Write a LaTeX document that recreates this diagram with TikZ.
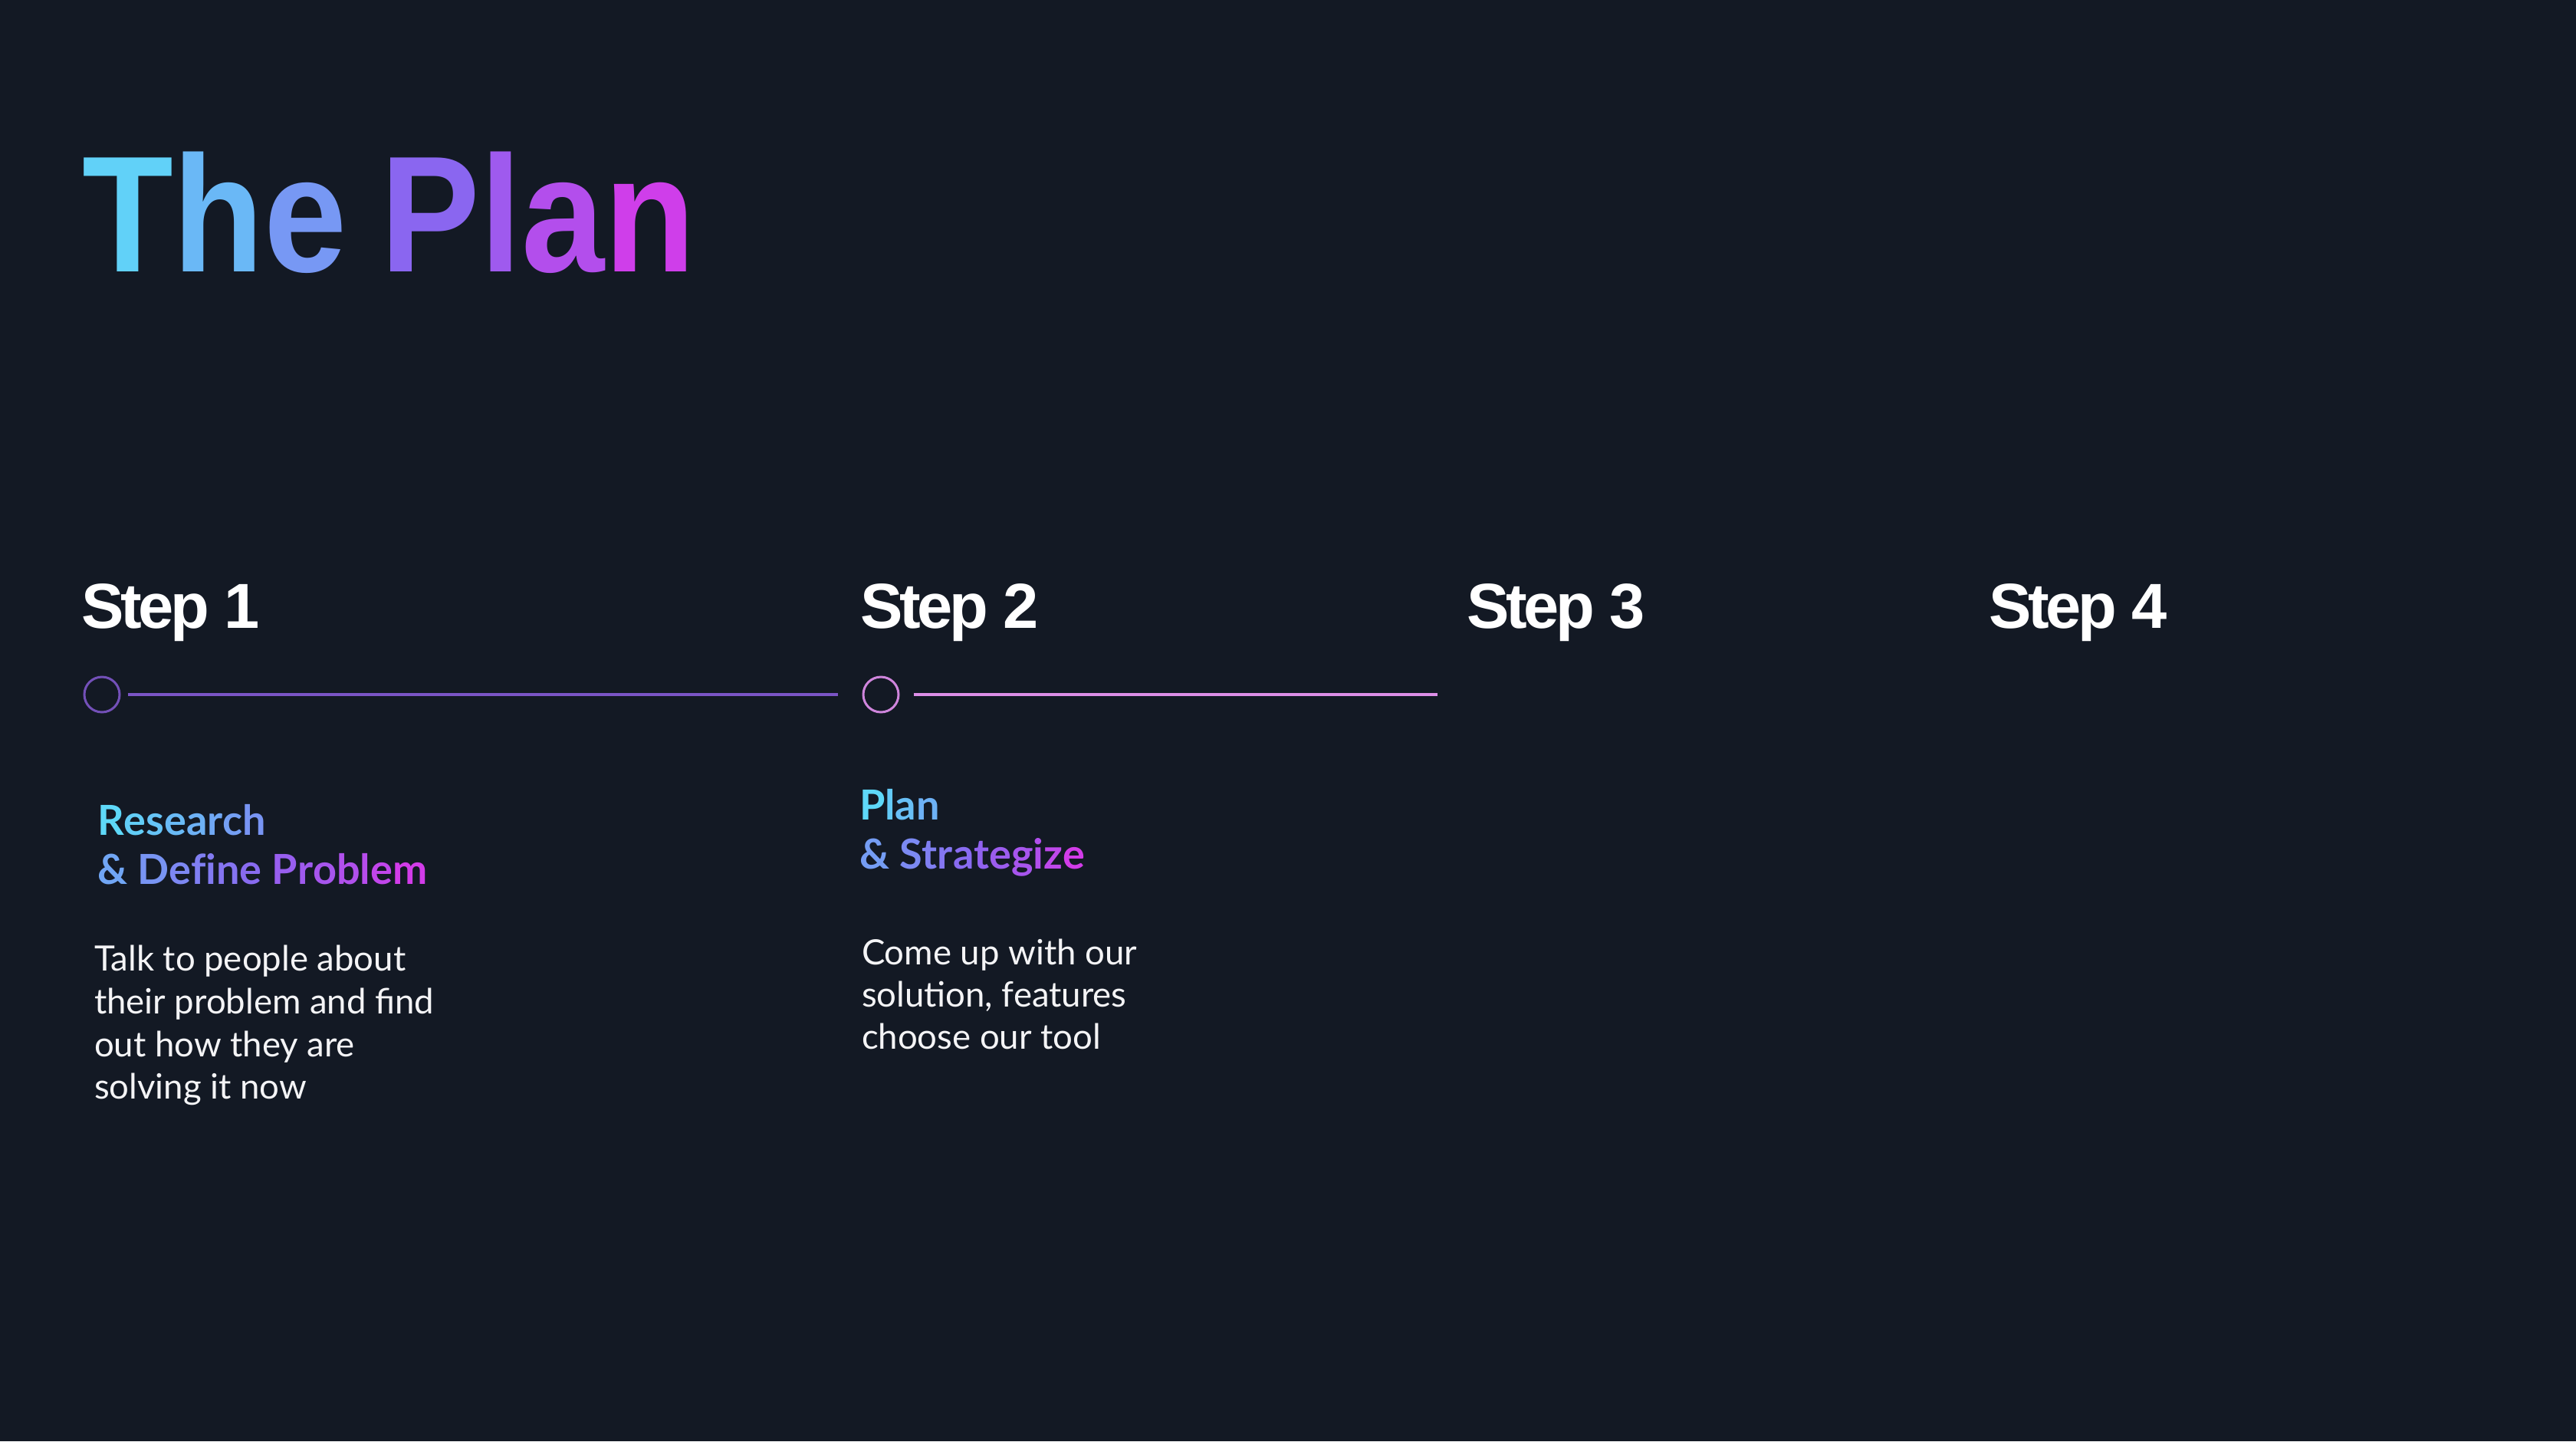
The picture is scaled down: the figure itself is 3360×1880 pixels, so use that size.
\documentclass[tikz,border=0pt]{standalone}
\usepackage{graphicx}
\usepackage{fontspec}
\setmainfont{Lato}
\newfontfamily\headfont{Liberation Sans}[LetterSpace=-5]
\newfontfamily\subfont{Lato}
\definecolor{bg}{HTML}{131924}
\definecolor{gA}{HTML}{5ED8F8}
\definecolor{gB}{HTML}{8A66F0}
\definecolor{gC}{HTML}{E034E8}
\definecolor{lineA}{HTML}{7B55C6}
\definecolor{ringA}{HTML}{7350B8}
\definecolor{lineB}{HTML}{DD8EE8}
\definecolor{ringB}{HTML}{CF85DC}
\definecolor{bodytext}{HTML}{F4F4F6}
\newcommand\gc[2]{\ifnum#1<50 \edef\gcx{gB!\number\numexpr#1*2\relax!gA}\else\edef\gcx{gC!\number\numexpr(#1-50)*2\relax!gB}\fi\textcolor{\gcx}{#2}}
\begin{document}
\begin{tikzpicture}[x=1pt,y=-1pt,
  txt/.style={anchor=base west, inner sep=0pt, outer sep=0pt},
  titletext/.style={txt, font=\headfont\bfseries\fontsize{216}{216}\selectfont},
  steplabel/.style={txt, text=white, font=\headfont\bfseries\fontsize{83}{83}\selectfont},
  subtitle/.style={txt, font=\subfont\bfseries\fontsize{54}{54}\selectfont},
  bodyline/.style={txt, text=bodytext, font=\fontsize{45.5}{45.5}\selectfont},
  ring/.style={circle, minimum size=46pt, inner sep=0pt, line width=3pt},
  track/.style={line width=4pt}]
\fill[bg] (0,0) rectangle (3360,1880);
\node[titletext] (title) at (107,354) {\scalebox{0.9}[1]{\gc{3}{T}\gc{14}{h}\gc{28}{e} \gc{50}{P}\gc{62}{l}\gc{74}{a}\gc{90}{n}}};
\node[steplabel] (s1) at (106,819) {Step 1};
\node[steplabel] (s2) at (1122,819) {Step 2};
\node[steplabel] (s3) at (1913,819) {Step 3};
\node[steplabel] (s4) at (2594,819) {Step 4};
\node[ring, draw=ringA] (c1) at (133,906) {};
\node[ring, draw=ringB] (c2) at (1149,906) {};
\coordinate (e2) at (1875,906);
\draw[track, lineA, shorten <=9pt, shorten >=32pt] (c1) -- (c2);
\draw[track, lineB, shorten <=18pt] (c2) -- (e2);
\node[subtitle] (t1a) at (127,1089) {\gc{0}{R}\gc{5}{e}\gc{9}{s}\gc{13}{e}\gc{17}{a}\gc{21}{r}\gc{25}{c}\gc{30}{h}};
\node[subtitle] (t1b) at (127,1153) {\gc{22}{\&} \gc{30}{D}\gc{35}{e}\gc{39}{f}\gc{41}{i}\gc{44}{n}\gc{48}{e} \gc{58}{P}\gc{62}{r}\gc{67}{o}\gc{72}{b}\gc{76}{l}\gc{82}{e}\gc{92}{m}};
\node[subtitle] (t2a) at (1121,1069) {\gc{0}{P}\gc{6}{l}\gc{11}{a}\gc{17}{n}};
\node[subtitle] (t2b) at (1121,1133) {\gc{26}{\&} \gc{34}{S}\gc{39}{t}\gc{43}{r}\gc{48}{a}\gc{54}{t}\gc{60}{e}\gc{67}{g}\gc{73}{i}\gc{80}{z}\gc{92}{e}};
\node[bodyline] (b1a) at (123,1266) {Talk to people about};
\node[bodyline] (b1b) at (123,1322) {their problem and find};
\node[bodyline] (b1c) at (123,1378) {out how they are};
\node[bodyline] (b1d) at (123,1433) {solving it now};
\node[bodyline] (b2a) at (1124,1258) {Come up with our};
\node[bodyline] (b2b) at (1124,1313) {solution, features};
\node[bodyline] (b2c) at (1124,1368) {choose our tool};
\end{tikzpicture}
\end{document}
